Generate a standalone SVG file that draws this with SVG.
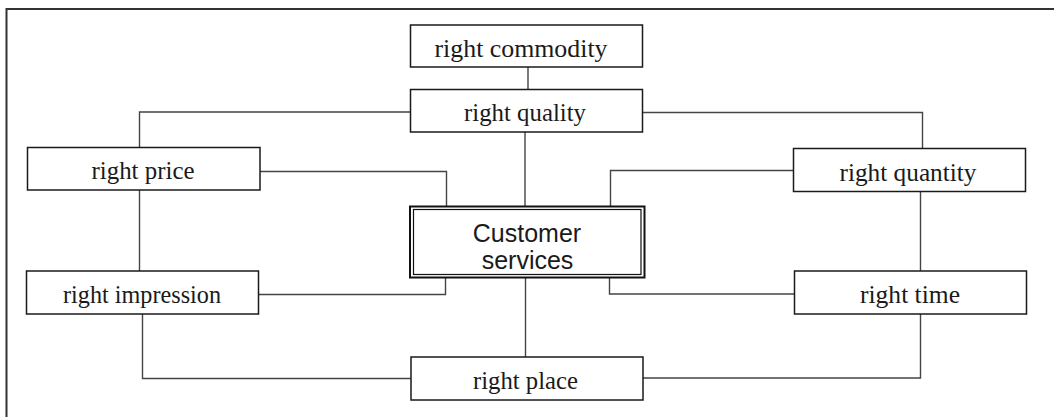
<svg xmlns="http://www.w3.org/2000/svg" width="1054" height="417" viewBox="0 0 1054 417">
<style>
.box{fill:#fff;stroke:#1a1a1a;stroke-width:1.5}
.lbl{font-family:"Liberation Serif","Times New Roman",serif;font-size:26px;fill:#1a1a1a;text-anchor:middle}
.ctr{font-family:"Liberation Sans",Arial,sans-serif;font-size:25px;fill:#1a1a1a;text-anchor:middle}
.con{fill:none;stroke:#444;stroke-width:1.4}
</style>
<rect width="1054" height="417" fill="#fff"/>
<path d="M6.5 417 V9 H1054" fill="none" stroke="#333" stroke-width="2"/>
<g id="connectors">
<path class="con" d="M528 67 V89.5"/>
<path class="con" d="M410.5 112 H139.5 V147.5"/>
<path class="con" d="M642.5 112.5 H922.5 V148.5"/>
<path class="con" d="M525 132 V206.5"/>
<path class="con" d="M260 171.5 H446.5 V206.5"/>
<path class="con" d="M793.5 170.5 H610.5 V206.5"/>
<path class="con" d="M139.5 190 V271"/>
<path class="con" d="M920.5 191.5 V271"/>
<path class="con" d="M258.5 294.5 H445.5 V277.5"/>
<path class="con" d="M794.5 294 H609.5 V277.5"/>
<path class="con" d="M525.5 277.5 V357"/>
<path class="con" d="M142.5 314 V378.5 H411"/>
<path class="con" d="M920.5 314 V378 H643"/>
</g>
<g id="commodity"><rect class="box" x="410.5" y="25" width="232" height="42"/><text class="lbl" x="521" y="56.5" textLength="173" lengthAdjust="spacingAndGlyphs">right  commodity</text></g>
<g id="quality"><rect class="box" x="410.5" y="89.5" width="232" height="42.5"/><text class="lbl" x="525" y="120.5" textLength="122" lengthAdjust="spacingAndGlyphs">right  quality</text></g>
<g id="price"><rect class="box" x="27.5" y="147.5" width="232.5" height="42.5"/><text class="lbl" x="143" y="179.3" textLength="103" lengthAdjust="spacingAndGlyphs">right  price</text></g>
<g id="quantity"><rect class="box" x="793.5" y="148.5" width="232" height="43"/><text class="lbl" x="908" y="180.5" textLength="137" lengthAdjust="spacingAndGlyphs">right  quantity</text></g>
<g id="impression"><rect class="box" x="26.5" y="271" width="232" height="43"/><text class="lbl" x="142" y="303" textLength="158" lengthAdjust="spacingAndGlyphs">right  impression</text></g>
<g id="time"><rect class="box" x="794.5" y="271" width="232" height="43"/><text class="lbl" x="910" y="303" textLength="100" lengthAdjust="spacingAndGlyphs">right  time</text></g>
<g id="place"><rect class="box" x="411" y="357" width="232" height="43"/><text class="lbl" x="525.5" y="389" textLength="105" lengthAdjust="spacingAndGlyphs">right  place</text></g>
<g id="center">
<rect x="410" y="206.5" width="234.5" height="71" fill="#fff" stroke="#111" stroke-width="2"/>
<rect x="413.5" y="209.5" width="227.5" height="65" fill="none" stroke="#111" stroke-width="1.2"/>
<text class="ctr" x="527" y="241.5">Customer</text>
<text class="ctr" x="527.5" y="268.5">services</text>
</g>
</svg>
